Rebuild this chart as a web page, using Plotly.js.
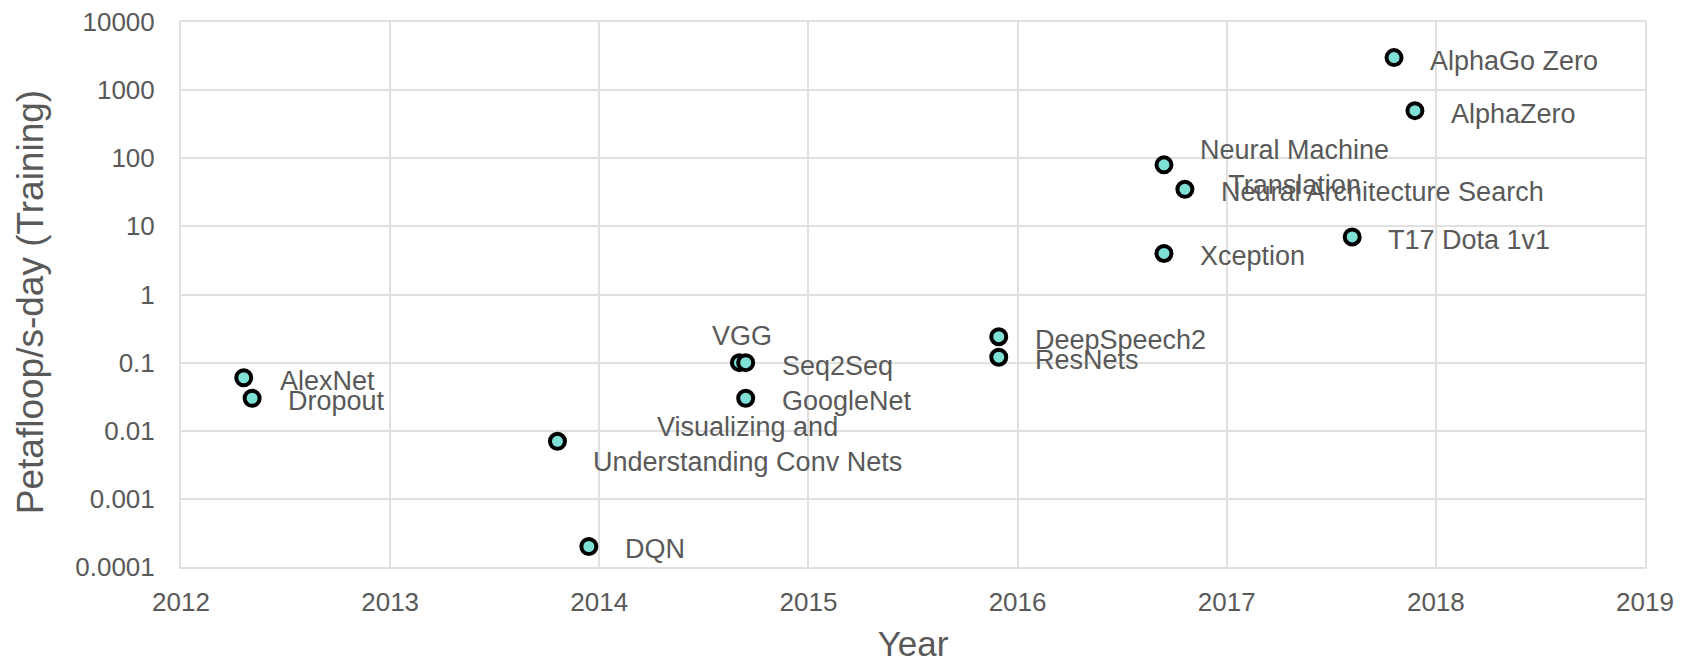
<!DOCTYPE html>
<html>
<head>
<meta charset="utf-8">
<script src="https://cdn.plot.ly/plotly-3.0.1.min.js"></script>
<style>html,body{margin:0;padding:0;background:#fff;}#chart{width:1688px;height:663px;}</style>
</head>
<body>
<div id="chart"></div>
<script>
// Data
const models = ["AlexNet", "Dropout", "Visualizing and<br>Understanding Conv Nets", "DQN", "VGG", "Seq2Seq", "GoogleNet", "DeepSpeech2", "ResNets", "Neural Machine<br>Translation", "Neural Architecture Search", "Xception", "T17 Dota 1v1", "AlphaGo Zero", "AlphaZero"];
const years = [2012.30, 2012.34, 2013.80, 2013.95, 2014.67, 2014.70, 2014.70, 2015.91, 2015.91, 2016.70, 2016.80, 2016.70, 2017.60, 2017.80, 2017.90];
const petaflopDays = [0.06, 0.03, 0.007, 0.0002, 0.1, 0.1, 0.03, 0.24, 0.12, 80, 35, 4, 7, 3000, 500];
const labelPlacement = ["right", "right", "right", "right", "top", "right", "right", "right", "right", "right", "right", "right", "right", "right", "right"];
const yTickVals = [0.0001, 0.001, 0.01, 0.1, 1, 10, 100, 1000, 10000];
const yTickText = ["0.0001", "0.001", "0.01", "0.1", "1", "10", "100", "1000", "10000"];
const xTickVals = [2012, 2013, 2014, 2015, 2016, 2017, 2018, 2019];
const xTickText = ["2012", "2013", "2014", "2015", "2016", "2017", "2018", "2019"];
const xTitle = "Year";
const yTitle = "Petafloop/s-day (Training)";

const FONT = "Arial, 'Liberation Sans', sans-serif";
const GRAY = "#595959";
const GRID = "#e0e0e0";

const trace = {
  type: "scatter",
  mode: "markers",
  x: years,
  y: petaflopDays,
  marker: {size: 15, color: "#7fe0d6", line: {color: "#000000", width: 4}},
  hoverinfo: "skip"
};

const annotations = models.map((m, i) => {
  const top = labelPlacement[i] === "top";
  return {
    x: years[i], y: Math.log10(petaflopDays[i]), xref: "x", yref: "y",
    text: m, showarrow: false, align: "center",
    xanchor: top ? "center" : "left",
    yanchor: top ? "bottom" : "middle",
    xshift: top ? 3 : 34,
    yshift: top ? 10 : -3,
    font: {family: FONT, size: 27, color: GRAY}
  };
});

// y-axis title as rotated text in the left margin
annotations.push({
  xref: "paper", yref: "paper", x: -0.1031, y: 0.486,
  xanchor: "center", yanchor: "middle", textangle: -90,
  text: yTitle, showarrow: false,
  font: {family: FONT, size: 37, color: GRAY}
});

const layout = {
  width: 1688, height: 663,
  margin: {l: 181, r: 43, t: 22, b: 96},
  paper_bgcolor: "#ffffff", plot_bgcolor: "#ffffff",
  showlegend: false,
  font: {family: FONT, color: GRAY},
  xaxis: {
    range: [2012, 2019], tickvals: xTickVals, ticktext: xTickText,
    showgrid: true, gridcolor: GRID, gridwidth: 2,
    showline: true, linecolor: GRID, linewidth: 2, mirror: true,
    zeroline: false, ticks: "outside", ticklen: 11, tickcolor: "rgba(0,0,0,0)",
    tickfont: {family: FONT, size: 26, color: GRAY},
    title: {text: xTitle, font: {family: FONT, size: 35, color: GRAY}, standoff: 16},
    automargin: false
  },
  yaxis: {
    type: "log", range: [-4, 4], tickvals: yTickVals, ticktext: yTickText,
    showgrid: true, gridcolor: GRID, gridwidth: 2,
    showline: true, linecolor: GRID, linewidth: 2, mirror: true,
    zeroline: false, ticks: "outside", ticklen: 19, tickcolor: "rgba(0,0,0,0)",
    tickfont: {family: FONT, size: 26, color: GRAY},
    automargin: false
  },
  annotations: annotations
};

Plotly.newPlot("chart", [trace], layout, {displayModeBar: false, staticPlot: true});
</script>
</body>
</html>
